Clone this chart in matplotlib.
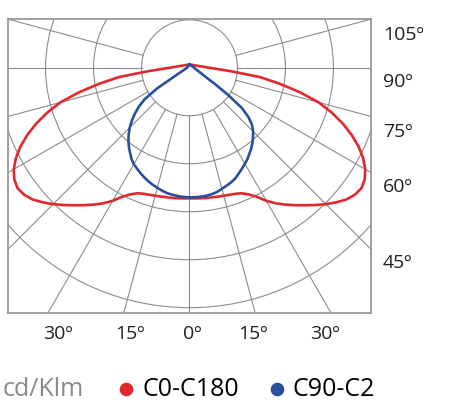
import numpy as np
import matplotlib
matplotlib.use("Agg")
import matplotlib.pyplot as plt
from matplotlib.patches import Circle
from matplotlib.lines import Line2D

plt.rcParams["font.family"] = ["Open Sans", "DejaVu Sans"]

# photometric data, cd/klm, gamma measured from nadir (0..90 every 2.5, then 180)
gamma = [0, 2.5, 5, 7.5, 10, 12.5, 15, 17.5, 20, 22.5, 25, 27.5, 30, 32.5, 35, 37.5,
         40, 42.5, 45, 47.5, 50, 52.5, 55, 57.5, 60, 62.5, 65, 67.5, 70, 72.5, 75,
         77.5, 80, 82.5, 85, 87.5, 90, 180]
c0 = [272, 272.5, 273, 273.5, 274, 275, 276, 277.5, 279.5, 283, 291, 303, 320, 335, 348, 361,
      374, 388, 402, 415, 427, 434.5, 437.5, 433, 423, 408, 389, 366, 340, 311, 279,
      236, 191, 148, 91, 58, 42, 7]
c180 = [272, 272.5, 273, 273.5, 274, 275, 276, 277.5, 279.5, 283, 291, 303, 320, 335, 348, 361,
        374, 388, 402, 415, 427, 434.5, 437.5, 433, 423, 408, 389, 366, 340, 311, 279,
        236, 191, 148, 91, 58, 42, 7]
c90 = [270, 270, 269.5, 269, 267.5, 265, 261, 257.5, 254, 249.5, 243, 237, 231, 225, 218, 211.5,
       204, 196, 187.5, 177, 161, 138, 97, 63, 41, 32, 26, 22, 19, 17, 15,
       13.5, 12, 11.5, 11, 10.5, 10, 7]
c270 = [270, 269.5, 268.5, 267, 265.5, 262.5, 259, 255.5, 251.5, 247, 242, 237, 232, 225, 216, 207.5,
        198, 187.5, 176, 163, 148.5, 133, 114, 80, 38, 25, 18, 14, 12, 10, 9,
        8, 7, 6.5, 6, 5.5, 5, 7]

rings = [100, 200, 300, 400, 500]
spokes = list(range(-105, 106, 15))
side_labels = ["105º", "90º", "75º", "60º", "45º"]
side_label_y = [35, 82, 132, 187, 263]
bottom_labels = ["30º", "15º", "0º", "15º", "30º"]
bottom_label_x = [58, 130, 192, 253, 325]

W, H = 456, 403
RED = "#E0282E"
BLUE = "#2A4F9C"
GRID = "#8C8C8C"


def half(values, sign):
    g = np.radians(gamma)
    r = np.asarray(values, dtype=float)
    return sign * r * np.sin(g), -r * np.cos(g)


def curve(left, right):
    xl, yl = half(left, -1)
    xr, yr = half(right, 1)
    return np.concatenate([xl[::-1], xr]), np.concatenate([yl[::-1], yr])


fig = plt.figure(figsize=(W / 100, H / 100), dpi=100)
ax = fig.add_axes([8 / W, 1 - 313.3 / H, 362.7 / W, 294 / H])
ax.set_xlim(-378.3, 377.7)
ax.set_ylim(-511.7, 101.1)
ax.set_xticks([])
ax.set_yticks([])
for sp in ax.spines.values():
    sp.set_color("#999999")
    sp.set_linewidth(1.3)

for r in rings:
    ax.add_patch(Circle((0, 0), r, fill=False, edgecolor=GRID, linewidth=0.8))
for a in spokes:
    t = np.radians(a)
    ax.plot([100 * np.sin(t), 900 * np.sin(t)], [-100 * np.cos(t), -900 * np.cos(t)],
            color=GRID, linewidth=0.8)

x, y = curve(c180, c0)
ax.plot(x, y, color=RED, linewidth=1.9, solid_joinstyle="round")
x, y = curve(c270, c90)
ax.plot(x, y, color=BLUE, linewidth=1.9, solid_joinstyle="round")

for lab, yy in zip(side_labels, side_label_y):
    fig.text(383 / W, 1 - yy / H, lab, fontsize=14, ha="left", va="center", color="#222222")
for lab, xx in zip(bottom_labels, bottom_label_x):
    fig.text(xx / W, 1 - 334 / H, lab, fontsize=14, ha="center", va="center", color="#222222")

# legend row
base = 1 - 396.5 / H
fig.text(3 / W, base, "cd/Klm", fontsize=18, ha="left", va="baseline", color="#8A8A8A")
fig.add_artist(Line2D([125.8 / W], [1 - 389 / H], marker="o", markersize=8.8, color=RED,
                      linestyle="none", transform=fig.transFigure))
fig.text(142.5 / W, base, "C0-C180", fontsize=18, ha="left", va="baseline", color="black")
fig.add_artist(Line2D([277 / W], [1 - 389 / H], marker="o", markersize=8.8, color=BLUE,
                      linestyle="none", transform=fig.transFigure))
fig.text(293 / W, base, "C90-C2", fontsize=18, ha="left", va="baseline", color="black")

fig.savefig("out.png", dpi=100)
